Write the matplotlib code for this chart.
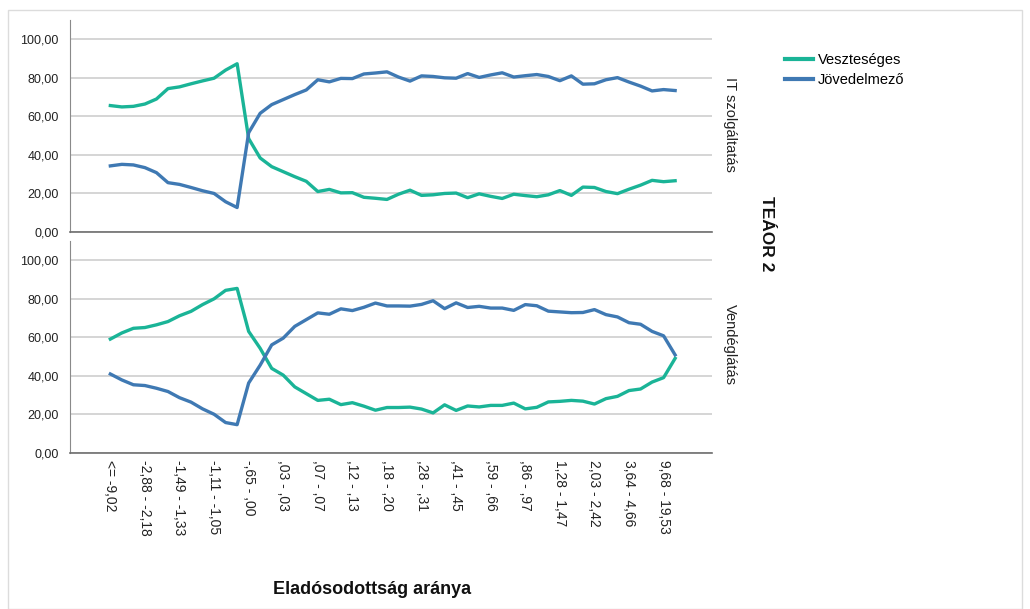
import matplotlib
matplotlib.use("Agg")
import matplotlib.pyplot as plt
from matplotlib.patches import Rectangle
from matplotlib.lines import Line2D
from matplotlib.ticker import FuncFormatter

plt.rcParams['font.family'] = ['Liberation Sans', 'DejaVu Sans']

# tick labels shown on the x axis (every third category)
tick_labels = ["<= -9,02", "-2,88 - -2,18", "-1,49 - -1,33", "-1,11 - -1,05",
               "-,65 - ,00", ",03 - ,03", ",07 - ,07", ",12 - ,13", ",18 - ,20",
               ",28 - ,31", ",41 - ,45", ",59 - ,66", ",86 - ,97", "1,28 - 1,47",
               "2,03 - 2,42", "3,64 - 4,66", "9,68 - 19,53"]

# IT szolgáltatás
it_veszteseges = [65.6, 64.9, 65.2, 66.4, 69.0, 74.4, 75.3, 76.9, 78.4, 79.8,
                  84.0, 87.3, 48.5, 38.4, 33.9, 31.3, 28.7, 26.3, 21.0, 22.1,
                  20.3, 20.4, 18.0, 17.5, 16.9, 19.6, 21.7, 19.0, 19.3, 20.0,
                  20.2, 17.8, 19.8, 18.5, 17.4, 19.6, 18.9, 18.3, 19.3, 21.5,
                  19.0, 23.3, 23.1, 21.0, 19.9, 22.2, 24.3, 26.8, 26.1, 26.6]
it_jovedelmezo = [34.3, 35.1, 34.8, 33.4, 30.8, 25.6, 24.7, 23.1, 21.4, 20.0,
                  15.7, 12.7, 51.5, 61.6, 66.1, 68.7, 71.3, 73.7, 79.0, 77.9,
                  79.7, 79.6, 82.0, 82.5, 83.1, 80.4, 78.3, 81.0, 80.7, 80.0,
                  79.8, 82.2, 80.2, 81.5, 82.6, 80.4, 81.1, 81.7, 80.7, 78.5,
                  81.0, 76.7, 76.9, 79.0, 80.1, 77.8, 75.7, 73.2, 73.9, 73.4]

# Vendéglátás
vendeg_veszteseges = [59.1, 62.3, 64.7, 65.1, 66.5, 68.2, 71.2, 73.5, 77.0, 80.0,
                      84.4, 85.4, 63.1, 54.3, 43.9, 40.4, 34.3, 30.8, 27.3, 27.9,
                      25.1, 26.1, 24.3, 22.2, 23.6, 23.6, 23.8, 22.8, 20.8, 25.0,
                      22.1, 24.4, 23.9, 24.7, 24.7, 25.9, 22.9, 23.7, 26.5, 26.8,
                      27.3, 26.9, 25.4, 28.2, 29.4, 32.4, 33.2, 36.8, 39.1, 49.1]
vendeg_jovedelmezo = [41.0, 37.9, 35.4, 35.0, 33.6, 31.9, 28.7, 26.4, 22.9, 20.1,
                      15.8, 14.7, 36.3, 45.6, 56.1, 59.6, 65.7, 69.2, 72.7, 72.0,
                      74.8, 73.9, 75.6, 77.8, 76.3, 76.3, 76.2, 77.1, 79.0, 74.9,
                      77.9, 75.5, 76.1, 75.2, 75.2, 74.0, 77.0, 76.4, 73.6, 73.2,
                      72.8, 72.9, 74.4, 71.8, 70.6, 67.6, 66.8, 63.1, 60.8, 50.9]

GREEN = "#1ab497"
BLUE = "#3f79b3"
W, H = 1030, 609

fig = plt.figure(figsize=(W / 100, H / 100), dpi=100)
fig.patches.append(Rectangle((8 / W, 0), 1014 / W, 1 - 10 / H, transform=fig.transFigure,
                             fill=False, edgecolor="#dcdcdc", lw=1))

ax1 = fig.add_axes([70 / W, 377 / H, 642 / W, 212 / H])
ax2 = fig.add_axes([70 / W, 156 / H, 642 / W, 212 / H])

x = list(range(len(it_veszteseges)))
fmt = FuncFormatter(lambda v, p: f"{v:.2f}".replace(".", ","))

for ax, green, blue in [(ax1, it_veszteseges, it_jovedelmezo),
                        (ax2, vendeg_veszteseges, vendeg_jovedelmezo)]:
    ax.plot(x, green, color=GREEN, lw=2.4, solid_joinstyle="round", zorder=3)
    ax.plot(x, blue, color=BLUE, lw=2.4, solid_joinstyle="round", zorder=3)
    ax.set_xlim(-3.5, 52.2)
    ax.set_ylim(0, 110)
    ax.set_yticks(range(0, 101, 20))
    ax.yaxis.set_major_formatter(fmt)
    ax.grid(axis="y", color="#d2d2d2", lw=1.3)
    ax.set_axisbelow(True)
    for s in ["top", "right"]:
        ax.spines[s].set_visible(False)
    ax.spines["left"].set_color("#8a8a8a")
    ax.spines["bottom"].set_color("#6e6e6e")
    ax.spines["bottom"].set_linewidth(1.2)
    ax.tick_params(axis="y", length=0, pad=8, labelsize=9, colors="#222222")

ax1.set_xticks([])
ax2.set_xticks(range(0, 50, 3))
ax2.set_xticklabels(tick_labels, rotation=270, fontsize=10, color="#222222")
ax2.tick_params(axis="x", length=0, pad=5)

fig.text(730 / W, 1 - 124 / H, "IT szolgáltatás", rotation=270, ha="center", va="center",
         fontsize=10.5, color="#222222")
fig.text(730 / W, 1 - 345 / H, "Vendéglátás", rotation=270, ha="center", va="center",
         fontsize=10.5, color="#222222")
fig.text(766 / W, 1 - 234 / H, "TEÁOR 2", rotation=270, ha="center", va="center",
         fontsize=12.5, fontweight="bold", color="#111111")
fig.text(372 / W, 1 - 590 / H, "Eladósodottság aránya", ha="center", va="center",
         fontsize=13, fontweight="bold", color="#111111")

handles = [Line2D([], [], color=GREEN, lw=3), Line2D([], [], color=BLUE, lw=3)]
fig.legend(handles, ["Veszteséges", "Jövedelmező"], loc="upper left",
           bbox_to_anchor=(779 / W, 1 - 47 / H), frameon=False, fontsize=10.5,
           handlelength=1.9, handletextpad=0.35, labelspacing=0.45, borderaxespad=0)

fig.savefig("out.png", dpi=100, facecolor="white")
